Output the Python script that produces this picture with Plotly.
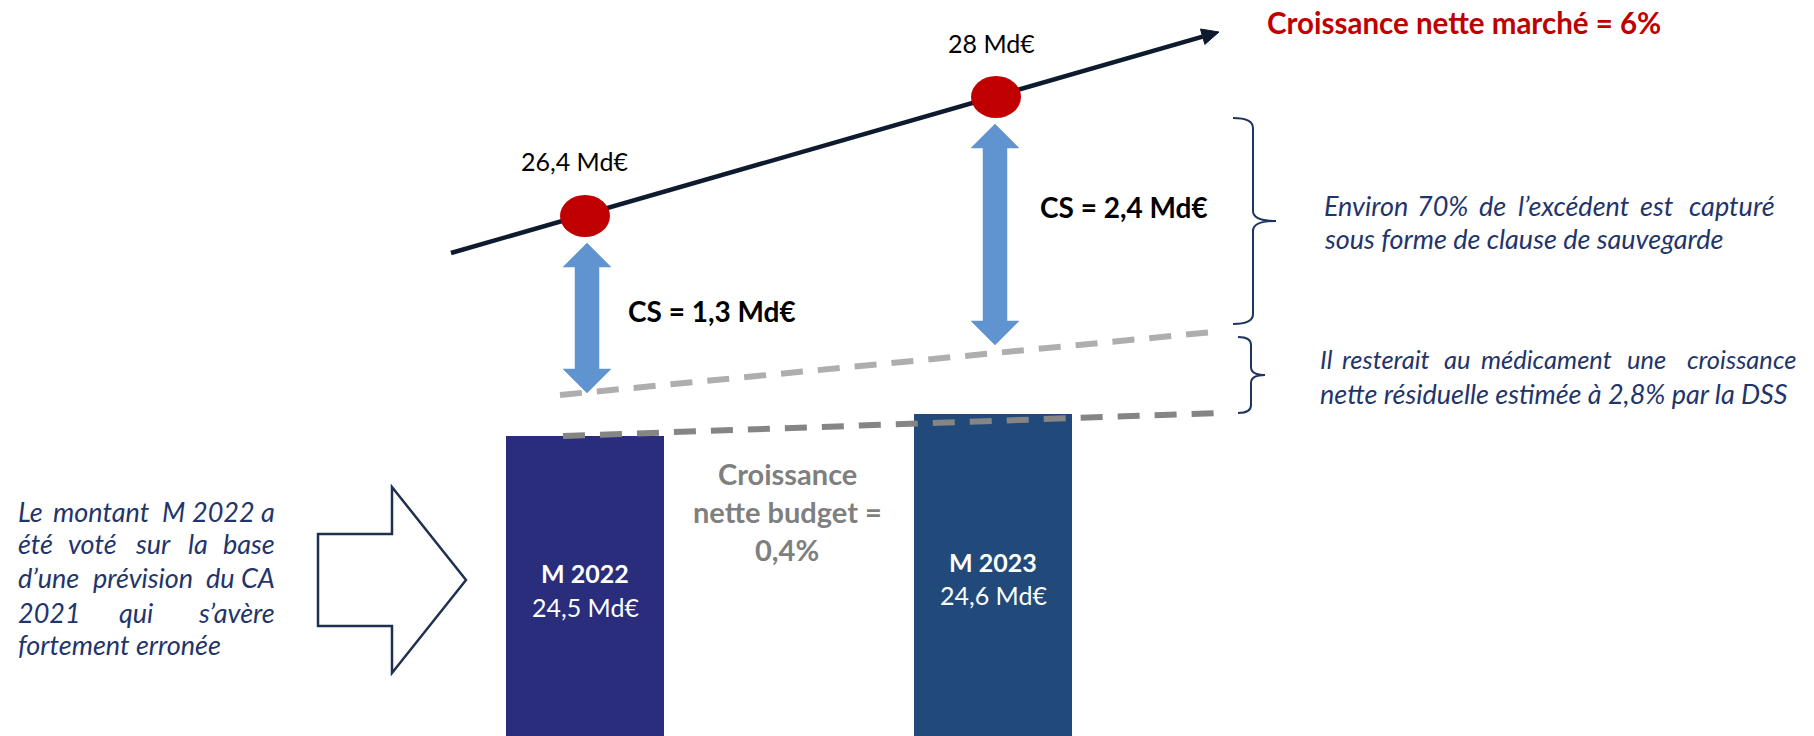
import math
import plotly.graph_objects as go

W, H = 1814, 736

# ---------------- data values ----------------
CATEGORIES = ["M 2022", "M 2023"]
BUDGET_MD = [24.5, 24.6]      # montant M voté (Md€)
MARKET_MD = [26.4, 28.0]      # CA du marché (Md€)
CS_MD = [1.3, 2.4]            # clause de sauvegarde (Md€)
MARKET_GROWTH_PCT = 6
BUDGET_GROWTH_PCT = 0.4
RESIDUAL_GROWTH_PCT = 2.8
CAPTURE_PCT = 70

# ---------------- schematic layout (pixels, origin top-left) ----------------
BAR_CX = [585, 993]
BAR_WIDTH = 158
BAR_TOP = [436, 414]
BAR_NAME_Y = [573, 562]
BAR_VALUE_Y = [607, 595]
BAR_COLORS = ["#292D7B", "#214A7B"]

DOT_CX = [585, 996]
DOT_CY = [216, 97]
DOT_RX, DOT_RY = 25, 21
DOT_LABEL_X = [574, 991]
DOT_LABEL_Y = [161, 43]

MARKET_START = (451, 253)
MARKET_TIP = (1219, 32)

CS_ARROW_X = [587, 995]
CS_ARROW_TOP = [243, 124]
CS_ARROW_BOTTOM = [393, 345]
CS_LABEL_X = [712, 1124]
CS_LABEL_Y = [311, 207]

LIGHT_DASH = [(560, 395), (1213, 332)]
DARK_DASH = [(563, 436), (1218, 413)]

FONT = "Lato"
NAVY = "#1F356B"
ITALIC_SIZE = 27


def fmt(v):
    s = f"{v:.1f}"
    if s.endswith(".0"):
        s = s[:-2]
    return s.replace(".", ",")


def Y(py):
    return H - py


fig = go.Figure()

# Bars
fig.add_trace(go.Bar(
    x=BAR_CX, y=[H - t for t in BAR_TOP], base=0, width=BAR_WIDTH,
    marker=dict(color=BAR_COLORS, line=dict(width=0)),
    customdata=BUDGET_MD, hoverinfo="skip", showlegend=False))

# Dashed budget / residual lines
fig.add_trace(go.Scatter(
    x=[p[0] for p in LIGHT_DASH], y=[Y(p[1]) for p in LIGHT_DASH], mode="lines",
    line=dict(color="#AEAEAE", width=6, dash="22px,15px"), hoverinfo="skip", showlegend=False))
fig.add_trace(go.Scatter(
    x=[p[0] for p in DARK_DASH], y=[Y(p[1]) for p in DARK_DASH], mode="lines",
    line=dict(color="#858585", width=6, dash="22px,15px"), hoverinfo="skip", showlegend=False))

# Market line with arrow head
dx = MARKET_TIP[0] - MARKET_START[0]
dy = MARKET_TIP[1] - MARKET_START[1]
L = math.hypot(dx, dy)
ux, uy = dx / L, dy / L
nx, ny = -uy, ux
HEAD_L, HEAD_HW = 17, 8
bx, by = MARKET_TIP[0] - HEAD_L * ux, MARKET_TIP[1] - HEAD_L * uy
fig.add_trace(go.Scatter(
    x=[MARKET_START[0], bx], y=[Y(MARKET_START[1]), Y(by)], mode="lines",
    line=dict(color="#0E1A2E", width=4.5), hoverinfo="skip", showlegend=False))
fig.add_trace(go.Scatter(
    x=[MARKET_TIP[0], bx + HEAD_HW * nx, bx - HEAD_HW * nx, MARKET_TIP[0]],
    y=[Y(MARKET_TIP[1]), Y(by + HEAD_HW * ny), Y(by - HEAD_HW * ny), Y(MARKET_TIP[1])],
    mode="lines", fill="toself", fillcolor="#0E1A2E", line=dict(color="#0E1A2E", width=1),
    hoverinfo="skip", showlegend=False))

# Blue double arrows (CS)
HEAD_LEN, HEAD_HALF, SHAFT_HALF = 24, 24, 12
for cx, top, bot in zip(CS_ARROW_X, CS_ARROW_TOP, CS_ARROW_BOTTOM):
    px = [cx, cx + HEAD_HALF, cx + SHAFT_HALF, cx + SHAFT_HALF, cx + HEAD_HALF, cx,
          cx - HEAD_HALF, cx - SHAFT_HALF, cx - SHAFT_HALF, cx - HEAD_HALF, cx]
    py = [top, top + HEAD_LEN, top + HEAD_LEN, bot - HEAD_LEN, bot - HEAD_LEN, bot,
          bot - HEAD_LEN, bot - HEAD_LEN, top + HEAD_LEN, top + HEAD_LEN, top]
    fig.add_trace(go.Scatter(
        x=px, y=[Y(v) for v in py], mode="lines", fill="toself", fillcolor="#6094D0",
        line=dict(color="#6094D0", width=0.5), hoverinfo="skip", showlegend=False))

shapes = []
# Red market points (ellipses)
for cx, cy in zip(DOT_CX, DOT_CY):
    shapes.append(dict(type="circle", xref="x", yref="y",
                       x0=cx - DOT_RX, x1=cx + DOT_RX, y0=Y(cy + DOT_RY), y1=Y(cy - DOT_RY),
                       fillcolor="#C00000", line=dict(width=0)))


def brace(x_arm, x_bar, x_tip, y_top, y_bot, r=10):
    ym = (y_top + y_bot) / 2
    return (f"M {x_arm},{Y(y_top)} Q {x_bar},{Y(y_top)} {x_bar},{Y(y_top + r)} "
            f"L {x_bar},{Y(ym - r)} Q {x_bar},{Y(ym)} {x_tip},{Y(ym)} "
            f"Q {x_bar},{Y(ym)} {x_bar},{Y(ym + r)} "
            f"L {x_bar},{Y(y_bot - r)} Q {x_bar},{Y(y_bot)} {x_arm},{Y(y_bot)}")


shapes.append(dict(type="path", xref="x", yref="y", path=brace(1233, 1253, 1276, 118, 324),
                   line=dict(color="#1F3460", width=2)))
shapes.append(dict(type="path", xref="x", yref="y", path=brace(1238, 1251, 1265, 337, 413, r=8),
                   line=dict(color="#1F3460", width=2)))

# Block arrow (outline)
blk = [(318, 534), (392, 534), (392, 487), (466, 580), (392, 673), (392, 626), (318, 626)]
shapes.append(dict(type="path", xref="x", yref="y",
                   path="M " + " L ".join(f"{x},{Y(y)}" for x, y in blk) + " Z",
                   fillcolor="white", line=dict(color="#1F3050", width=2.5)))

ann = []


def text(x, y, s, size=25, color="black", xanchor="center", bold=False, italic=False):
    if bold:
        s = f"<b>{s}</b>"
    if italic:
        s = f"<i>{s}</i>"
    ann.append(dict(x=x, y=Y(y), xref="x", yref="y", text=s, showarrow=False,
                    xanchor=xanchor, yanchor="middle",
                    font=dict(family=FONT, size=size, color=color)))


# Market point labels
for x, y, v in zip(DOT_LABEL_X, DOT_LABEL_Y, MARKET_MD):
    text(x, y, f"{fmt(v)} Md€")

# CS labels
for x, y, v in zip(CS_LABEL_X, CS_LABEL_Y, CS_MD):
    text(x, y, f"CS = {fmt(v)} Md€", size=28, bold=True)

# Bar labels
for cx, yn, yv, name, v in zip(BAR_CX, BAR_NAME_Y, BAR_VALUE_Y, CATEGORIES, BUDGET_MD):
    text(cx, yn, name, color="white", bold=True)
    text(cx, yv, f"{fmt(v)} Md€", color="white")

# Title
text(1265, 22, f"Croissance nette marché = {fmt(MARKET_GROWTH_PCT)}%", size=29.5,
     color="#C00000", xanchor="left", bold=True)

# Budget growth label
for y, s in zip([473, 511, 549], ["Croissance", "nette budget =", f"{fmt(BUDGET_GROWTH_PCT)}%"]):
    text(787, y, s, size=29, color="#7F7F7F", bold=True)


def justified(lines, ys, sizes=None):
    """Each line: list of (word, x_left, x_right) spans read from the slide.
    First word left-anchored, last word right-anchored (justified lines),
    middle words centred in their span."""
    if sizes is None:
        sizes = [ITALIC_SIZE] * len(lines)
    for words, y, size in zip(lines, ys, sizes):
        n = len(words)
        for i, (w, x0, x1) in enumerate(words):
            if n == 1 or i == 0:
                text(x0, y, w, size=size, color=NAVY, xanchor="left", italic=True)
            elif i == n - 1:
                text(x1, y, w, size=size, color=NAVY, xanchor="right", italic=True)
            else:
                text((x0 + x1) / 2, y, w, size=size, color=NAVY, xanchor="center", italic=True)


# Left note
justified(
    [[("Le", 16, 41), ("montant", 53, 149), ("M", 162, 184), ("2022", 196, 251), ("a", 265, 277)],
     [("été", 16, 51), ("voté", 68, 117), ("sur", 135, 170), ("la", 188, 207), ("base", 226, 277)],
     [("d’une", 16, 78), ("prévision", 92, 193), ("du", 207, 233), ("CA", 247, 277)],
     [("2021", 16, 72), ("qui", 118, 153), ("s’avère", 197, 277)],
     [("fortement erronée", 16, 224)]],
    [511, 543, 577, 612, 644])

# Right notes
justified(
    [[("Environ", 1322, 1407), (f"{CAPTURE_PCT}%", 1418, 1467), ("de", 1479, 1505),
      ("l’excédent", 1515, 1633), ("est", 1640, 1673), ("capturé", 1689, 1777)],
     [("sous forme de clause de sauvegarde", 1322, 1683)]],
    [205, 238])
justified(
    [[("Il", 1318, 1332), ("resterait", 1339, 1432), ("au", 1443, 1472),
      ("médicament", 1481, 1611), ("une", 1625, 1667), ("croissance", 1666, 1798)],
     [(f"nette résiduelle estimée à {fmt(RESIDUAL_GROWTH_PCT)}% par la DSS", 1318, 1792)]],
    [359, 393], sizes=[25.5, ITALIC_SIZE])

fig.update_layout(
    width=W, height=H, autosize=False,
    margin=dict(l=0, r=0, t=0, b=0, pad=0),
    paper_bgcolor="white", plot_bgcolor="white",
    xaxis=dict(range=[0, W], visible=False, fixedrange=True),
    yaxis=dict(range=[0, H], visible=False, fixedrange=True),
    shapes=shapes, annotations=ann, showlegend=False, bargap=0,
)

fig.write_html("out.html", config={"displayModeBar": False})
